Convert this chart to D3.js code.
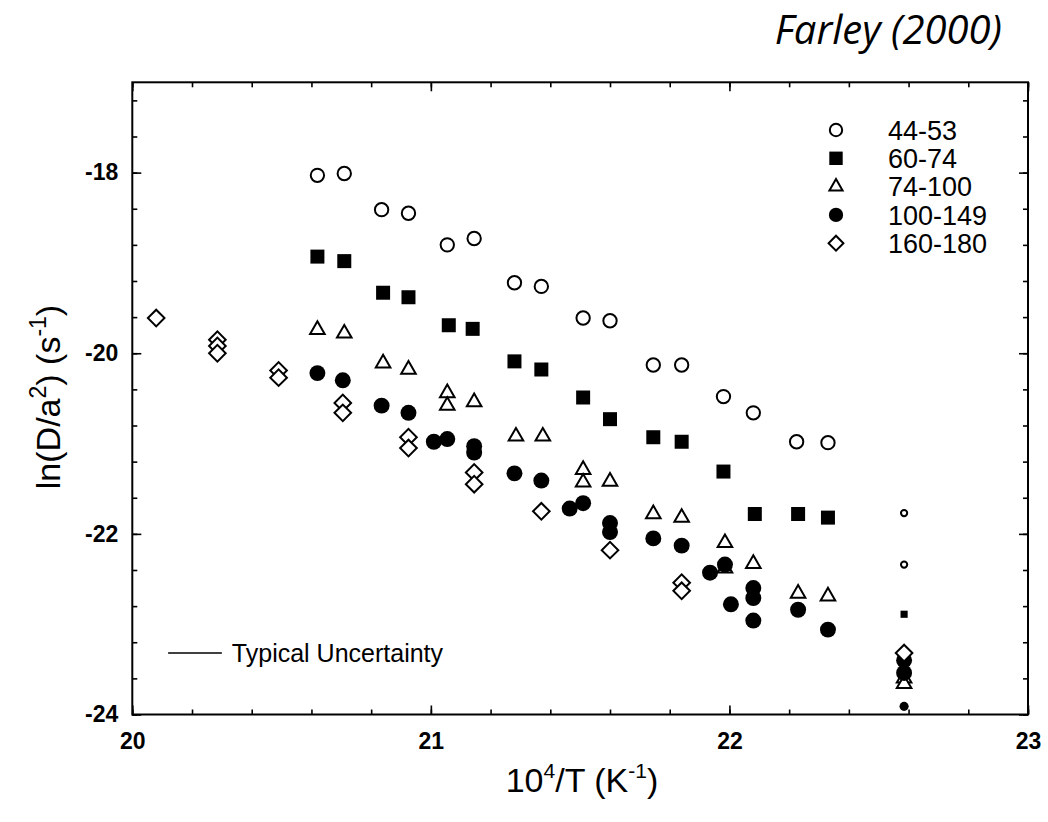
<!DOCTYPE html>
<html>
<head>
<meta charset="utf-8">
<script src="https://cdn.jsdelivr.net/npm/d3@7"></script>
<style>
  body { margin: 0; background: #fff; }
  svg { display: block; }
  text { font-family: "Liberation Sans", Arial, sans-serif; fill: #000; }
</style>
</head>
<body>
<div class="graph"></div>
<script>
// series labels (grain size ranges) and their points [10^4/T, ln(D/a^2)]
var labels = ['44-53', '60-74', '74-100', '100-149', '160-180'];

var s44_53 = [[20.62,-18.03],[20.71,-18.01],[20.835,-18.41],[20.925,-18.45],[21.055,-18.80],[21.145,-18.73],
  [21.28,-19.22],[21.37,-19.26],[21.51,-19.61],[21.60,-19.64],[21.745,-20.13],[21.84,-20.13],
  [21.98,-20.48],[22.08,-20.66],[22.225,-20.98],[22.33,-20.99]];
var s44_53small = [[22.585,-21.77],[22.585,-22.34]];

var s60_74 = [[20.62,-18.93],[20.71,-18.98],[20.84,-19.33],[20.925,-19.38],[21.06,-19.69],[21.14,-19.73],
  [21.28,-20.09],[21.37,-20.18],[21.51,-20.49],[21.60,-20.73],[21.745,-20.93],[21.84,-20.98],
  [21.98,-21.31],[22.085,-21.78],[22.23,-21.78],[22.33,-21.82]];
var s60_74small = [[22.585,-22.89]];

var s74_100 = [[20.62,-19.74],[20.71,-19.78],[20.84,-20.11],[20.925,-20.18],[21.055,-20.44],[21.055,-20.58],
  [21.145,-20.54],[21.285,-20.92],[21.375,-20.92],[21.51,-21.29],[21.51,-21.43],[21.60,-21.42],
  [21.745,-21.78],[21.84,-21.82],[21.985,-22.10],[21.985,-22.38],[22.08,-22.33],[22.23,-22.66],
  [22.33,-22.69],[22.585,-23.60],[22.585,-23.66]];

var s100_149 = [[20.62,-20.22],[20.705,-20.30],[20.835,-20.58],[20.925,-20.66],[21.01,-20.98],[21.055,-20.95],
  [21.145,-21.03],[21.145,-21.10],[21.28,-21.33],[21.37,-21.41],[21.465,-21.72],[21.51,-21.66],
  [21.60,-21.88],[21.60,-21.98],[21.745,-22.05],[21.84,-22.13],[21.935,-22.43],[21.985,-22.34],
  [22.005,-22.78],[22.08,-22.60],[22.08,-22.71],[22.08,-22.96],[22.23,-22.84],[22.33,-23.06],
  [22.585,-23.40],[22.585,-23.54]];
var s100_149small = [[22.585,-23.91]];

var s160_180 = [[20.08,-19.61],[20.285,-19.85],[20.285,-19.92],[20.285,-20.00],[20.49,-20.19],[20.49,-20.27],
  [20.705,-20.55],[20.705,-20.66],[20.925,-20.93],[20.925,-21.05],[21.145,-21.32],[21.145,-21.45],
  [21.37,-21.75],[21.60,-22.18],[21.84,-22.54],[21.84,-22.63],[22.585,-23.32]];

var xTicksMajor = [20, 21, 22, 23];
var yTicksMajor = [-18, -20, -22, -24];
var uncertainty = { x0: 20.12, x1: 20.30, y: -23.32, label: 'Typical Uncertainty' };

var width = 1048, height = 822;
var frame = {left: 132.3, right: 1028, top: 82.3, bottom: 714.5};

var x = d3.scaleLinear().domain([20, 23]).range([frame.left, frame.right]),
    y = d3.scaleLinear().domain([-24, -17]).range([frame.bottom, frame.top]);

var svg = d3.select('.graph')
            .append('svg')
            .attr('width', width)
            .attr('height', height);

// minor ticks every 0.2 in x and 0.4 in y
var xMinor = d3.range(0, 16).map(function(i) { return +(20 + i * 0.2).toFixed(1); });
var yMinor = d3.range(0, 18).map(function(i) { return +(-24 + i * 0.4).toFixed(1); });

function drawAxis(axis, tx, ty, cls) {
  var g = svg.append('g')
     .attr('class', cls)
     .attr('transform', 'translate(' + tx + ',' + ty + ')')
     .call(axis);
  g.select('.domain').remove();
  g.selectAll('.tick line').attr('stroke', '#000').attr('stroke-width', 1.6);
  return g;
}

var noLabel = function() { return ''; };
var intLabel = function(d) { return String(d); };

drawAxis(d3.axisBottom(x).tickValues(xMinor).tickSize(-5).tickFormat(noLabel), 0, frame.bottom, 'x minor');
drawAxis(d3.axisTop(x).tickValues(xMinor).tickSize(-5).tickFormat(noLabel), 0, frame.top, 'x minor');
drawAxis(d3.axisTop(x).tickValues(xTicksMajor).tickSize(-9).tickFormat(noLabel), 0, frame.top, 'x major');
drawAxis(d3.axisBottom(x).tickValues(xTicksMajor).tickSize(-9).tickPadding(18.5).tickFormat(intLabel), 0, frame.bottom, 'x axis');

drawAxis(d3.axisLeft(y).tickValues(yMinor).tickSize(-5).tickFormat(noLabel), frame.left, 0, 'y minor');
drawAxis(d3.axisRight(y).tickValues(yMinor).tickSize(-5).tickFormat(noLabel), frame.right, 0, 'y minor');
drawAxis(d3.axisRight(y).tickValues(yTicksMajor).tickSize(-9).tickFormat(noLabel), frame.right, 0, 'y major');
drawAxis(d3.axisLeft(y).tickValues(yTicksMajor).tickSize(-9).tickPadding(14).tickFormat(intLabel), frame.left, 0, 'y axis');

svg.selectAll('.axis text')
   .attr('fill', '#000')
   .style('font-family', '"Liberation Sans", Arial, sans-serif')
   .style('font-size', '23px')
   .style('font-weight', 'bold');

svg.append('rect')
   .attr('x', frame.left)
   .attr('y', frame.top)
   .attr('width', frame.right - frame.left)
   .attr('height', frame.bottom - frame.top)
   .attr('fill', 'none')
   .attr('stroke', '#000')
   .attr('stroke-width', 2);

// marker styles
var styles = [
  { type: d3.symbolCircle, size: 140, fill: '#fff', stroke: '#000', rot: 0 },
  { type: d3.symbolSquare, size: 196, fill: '#000', stroke: 'none', rot: 0 },
  { type: d3.symbolTriangle, size: 92, fill: '#fff', stroke: '#000', rot: 0 },
  { type: d3.symbolCircle, size: 200, fill: '#000', stroke: 'none', rot: 0 },
  { type: d3.symbolSquare, size: 138, fill: '#fff', stroke: '#000', rot: 45 }
];

function plotSeries(data, st, scale) {
  var pts = data.slice().sort(function(a, b) { return b[1] - a[1]; });
  svg.append('g')
     .selectAll('path')
     .data(pts)
     .enter()
     .append('path')
     .attr('transform', function(d) { return 'translate(' + x(d[0]) + ',' + y(d[1]) + ') rotate(' + st.rot + ')'; })
     .attr('d', d3.symbol().type(st.type).size(st.size * scale))
     .attr('fill', st.fill)
     .attr('stroke', st.stroke)
     .attr('stroke-width', 2);
}

var series = [s44_53, s60_74, s74_100, s100_149, s160_180];
series.forEach(function(s, i) { plotSeries(s, styles[i], 1); });

plotSeries(s44_53small, styles[0], 0.22);
plotSeries(s60_74small, styles[1], 0.26);
plotSeries(s100_149small, styles[3], 0.33);

// legend
var legend = svg.selectAll('.legend')
                .data(labels)
                .enter()
                .append('g')
                .attr('class', 'legend')
                .attr('transform', function(d, i) { return 'translate(836,' + (130 + i * 28.3) + ')'; });

var legendSize = [120, 180, 75, 160, 110];
legend.append('path')
      .attr('d', function(d, i) { return d3.symbol().type(styles[i].type).size(legendSize[i])(); })
      .attr('transform', function(d, i) { return 'rotate(' + styles[i].rot + ')'; })
      .attr('fill', function(d, i) { return styles[i].fill; })
      .attr('stroke', function(d, i) { return styles[i].stroke; })
      .attr('stroke-width', 2);

legend.append('text')
      .attr('x', 52)
      .attr('dy', '.36em')
      .style('font-size', '27px')
      .text(function(d) { return d; });

// typical uncertainty bar
svg.append('line')
   .attr('x1', x(uncertainty.x0))
   .attr('x2', x(uncertainty.x1))
   .attr('y1', y(uncertainty.y))
   .attr('y2', y(uncertainty.y))
   .attr('stroke', '#000')
   .attr('stroke-width', 1.5);

svg.append('text')
   .attr('x', x(uncertainty.x1) + 10)
   .attr('y', y(uncertainty.y))
   .attr('dy', '.36em')
   .style('font-size', '25px')
   .text(uncertainty.label);

// axis titles
var xTitle = svg.append('text')
   .attr('x', 582)
   .attr('y', 792)
   .attr('text-anchor', 'middle')
   .style('font-size', '34px');
xTitle.append('tspan').text('10');
xTitle.append('tspan').attr('dy', -14).style('font-size', '21px').text('4');
xTitle.append('tspan').attr('dy', 14).text('/T (K');
xTitle.append('tspan').attr('dy', -14).style('font-size', '21px').text('-1');
xTitle.append('tspan').attr('dy', 14).text(')');

var yTitle = svg.append('text')
   .attr('transform', 'translate(60,397) rotate(-90)')
   .attr('text-anchor', 'middle')
   .style('font-size', '34px');
yTitle.append('tspan').text('ln(D/a');
yTitle.append('tspan').attr('dy', -14).style('font-size', '23px').text('2');
yTitle.append('tspan').attr('dy', 14).text(') (s');
yTitle.append('tspan').attr('dy', -14).style('font-size', '23px').text('-1');
yTitle.append('tspan').attr('dy', 14).text(')');

// title
svg.append('text')
   .attr('x', 1002)
   .attr('y', 44)
   .attr('text-anchor', 'end')
   .style('font-family', '"Open Sans", "Noto Sans", sans-serif')
   .style('font-style', 'italic')
   .style('font-size', '40px')
   .text('Farley (2000)');
</script>
</body>
</html>
